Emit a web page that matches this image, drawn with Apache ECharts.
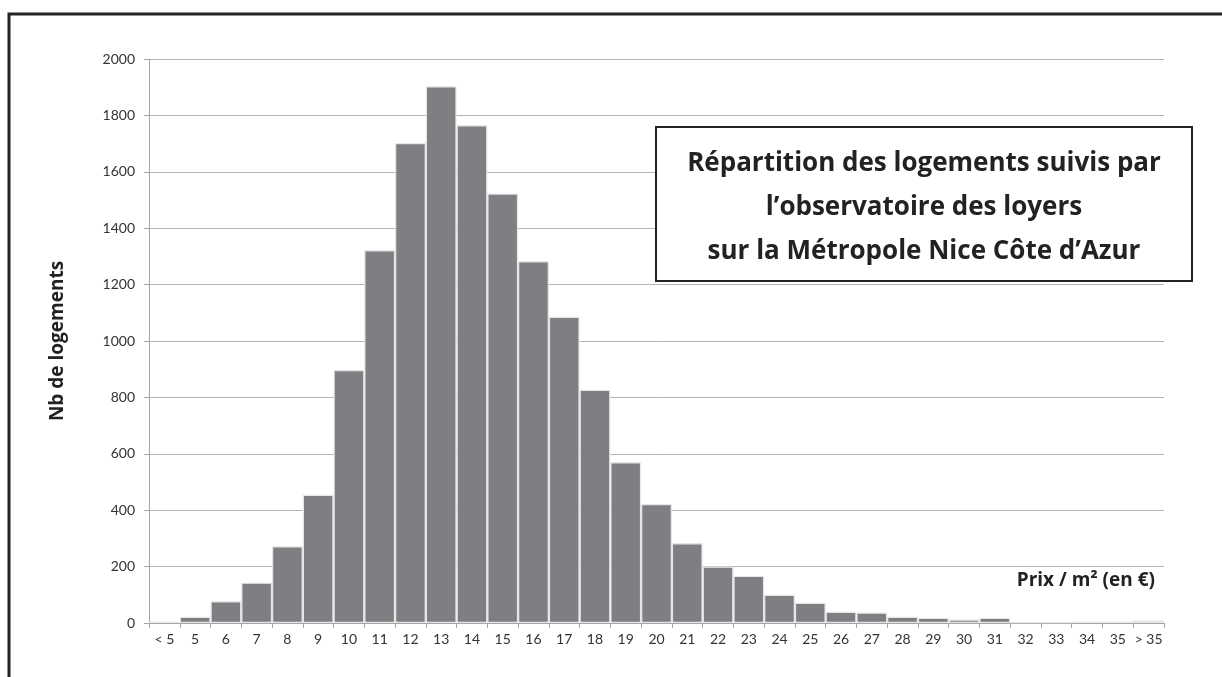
<!DOCTYPE html>
<html><head><meta charset="utf-8">
<script src="https://cdn.jsdelivr.net/npm/echarts@6/dist/echarts.min.js"></script>
<style>html,body{margin:0;padding:0;background:#fff}#c{width:1222px;height:677px}</style>
</head><body><div id="c"></div>
<script>
const categories = ['< 5','5','6','7','8','9','10','11','12','13','14','15','16','17','18','19','20','21','22','23','24','25','26','27','28','29','30','31','32','33','34','35','> 35'];
const counts = [5,22,77,143,272,455,897,1322,1702,1903,1765,1523,1283,1086,827,570,422,283,200,167,100,72,40,37,22,18,12,18,3,3,5,5,9];
const yTicks = [0,200,400,600,800,1000,1200,1400,1600,1800,2000];
const titleLines = ['Répartition des logements suivis par','l’observatoire des loyers','sur la Métropole Nice Côte d’Azur'];
const FONT = 'Lato, "Open Sans", sans-serif';
const BFONT = '"Open Sans", Lato, sans-serif';
const chart = echarts.init(document.getElementById('c'));
function txt(x,y,s,size,align){
  return {type:'text',x:x,y:y,z:101,style:{text:s,fontSize:size,fontWeight:'bold',fontFamily:BFONT,fill:'#222',align:align,verticalAlign:'middle',textAlign:align,textVerticalAlign:'middle'}};
}
chart.setOption({
  animation:false,
  grid:{left:149,right:58,top:59,bottom:54},
  xAxis:{type:'category',data:categories,
    axisLine:{lineStyle:{color:'#a6a6a6'}},
    axisTick:{show:true,alignWithLabel:false,lineStyle:{color:'#a6a6a6'},length:5},
    axisLabel:{color:'#333',fontSize:14,fontFamily:FONT,interval:0,margin:9}},
  yAxis:{type:'value',min:yTicks[0],max:yTicks[yTicks.length-1],interval:200,
    name:'Nb de logements',nameLocation:'middle',nameGap:82,
    nameTextStyle:{fontSize:19,fontWeight:'bold',color:'#222',fontFamily:BFONT},
    axisLine:{show:true,lineStyle:{color:'#a6a6a6'}},
    axisTick:{show:true,length:5,lineStyle:{color:'#a6a6a6'}},
    axisLabel:{color:'#333',fontSize:14,fontFamily:FONT,margin:14,formatter:function(v){return String(v);}},
    splitLine:{lineStyle:{color:'#b3b3b3',width:1}}},
  series:[{type:'bar',data:counts,barCategoryGap:'0%',
    itemStyle:{color:'#7f7f83',borderColor:'#e6e6e6',borderWidth:1.2}}],
  graphic:[
    {type:'rect',shape:{x:9,y:14,width:1300,height:800},style:{fill:'none',stroke:'#222',lineWidth:3},z:100},
    {type:'rect',shape:{x:656,y:127,width:536,height:154},style:{fill:'#fff',stroke:'#222',lineWidth:2},z:100},
    txt(924,164,titleLines[0],26,'center'),
    txt(924,208,titleLines[1],26,'center'),
    txt(924,252,titleLines[2],26,'center'),
    txt(1155,581,'Prix / m² (en €)',19,'right')
  ]
});
</script></body></html>
